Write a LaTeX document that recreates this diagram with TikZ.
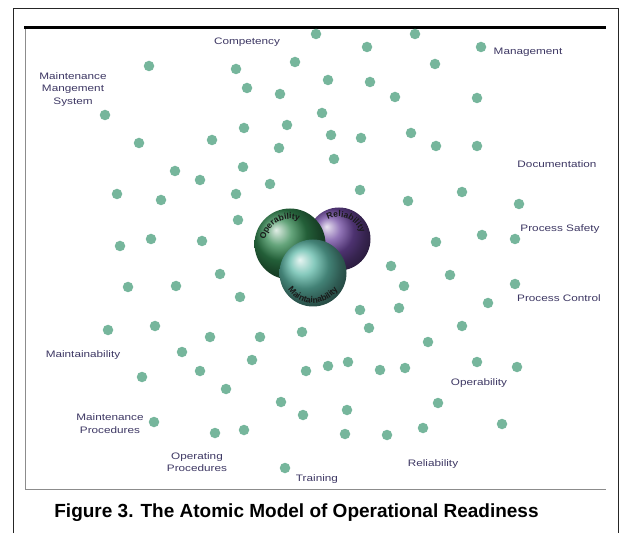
\documentclass[tikz,border=0pt]{standalone}
\usepackage{fontspec}
\setmainfont{Liberation Sans}
\newfontfamily\lblfont{Liberation Sans}[FakeStretch=1.25]
\usetikzlibrary{decorations.text}
\definecolor{dotc}{RGB}{118,182,156}
\definecolor{lblc}{RGB}{62,56,100}
\definecolor{grnball}{RGB}{50,135,80}
\definecolor{purball}{RGB}{110,72,160}
\definecolor{tealball}{RGB}{95,185,168}
\newcommand{\sphfont}{\bfseries\fontsize{8.5}{9}\selectfont}
\begin{document}
\begin{tikzpicture}[x=1pt,y=1pt,
  dot/.style={circle, fill=dotc, inner sep=0pt, minimum size=10.5pt},
  lbl/.style={text=lblc, font=\lblfont\fontsize{9.4}{12.3}\selectfont, align=center, inner sep=0pt},
  sph/.style={circle, inner sep=0pt, shading=ball},
  sphtxt/.style={decorate, decoration={text along path, text align=center, text color=black!90}}
]
\useasboundingbox (0,0) rectangle (623,533);
\fill[white] (0,0) rectangle (623,533);
% frames
\draw[line width=1pt, black!85] (13,0) -- (13,524) -- (618,524) -- (618,0);
\draw[line width=0.8pt, black!45] (25,505) -- (25,44) -- (606,44);
\draw[line width=2.6pt, black] (24,505.5) -- (606,505.5);
% dots
\foreach \x/\y [count=\i] in {316/34,415/34,367/47,481/47,149/66,295/62,236/69,435/64,328/80,370/82,
  247/88,280/94,395/97,477/98,105/115,322/113,287/125,244/128,331/135,361/138,
  411/133,212/140,139/143,279/148,436/146,477/146,334/159,243/167,175/171,200/180,
  270/184,360/190,462/192,236/194,117/194,161/200,408/201,519/204,238/220,120/246,
  151/239,202/241,436/242,482/235,515/239,391/266,220/274,450/275,128/287,176/286,
  404/286,515/284,240/297,488/303,360/310,399/308,369/328,462/326,108/330,155/326,
  210/337,260/337,302/332,428/342,182/352,252/360,348/362,328/366,306/371,380/370,
  405/368,477/362,517/367,200/371,142/377,226/389,281/402,303/415,347/410,438/403,
  154/422,215/433,244/430,345/434,387/435,423/428,502/424,285/468}
  \node[dot] (d\i) at (\x,533-\y) {};
% spheres
\node[sph, ball color=purball, minimum size=63pt] (relsph) at (339,294) {};
\node[sph, ball color=grnball, minimum size=71pt] (opsph) at (290,289) {};
\node[sph, ball color=tealball, minimum size=67pt] (mntsph) at (313,260) {};
\path[sphtxt, decoration={text={|\sphfont|Operability}}]
  ([shift={(192:25)}]opsph.center) arc[start angle=192, end angle=48, radius=25];
\path[sphtxt, decoration={text={|\sphfont|Reliability}}]
  ([shift={(135:22)}]relsph.center) arc[start angle=135, end angle=0, radius=22];
\path[sphtxt, decoration={text={|\sphfont|Maintainability}}]
  ([shift={(195:30)}]mntsph.center) arc[start angle=195, end angle=345, radius=30];
% labels
\node[lbl] (competency) at (247,491) {Competency};
\node[lbl] (mms) at (73,443.5) {Maintenance\\Mangement\\System};
\node[lbl] (management) at (528,481) {Management};
\node[lbl] (documentation) at (557,369) {Documentation};
\node[lbl] (psafety) at (560,304) {Process Safety};
\node[lbl] (pcontrol) at (559,235) {Process Control};
\node[lbl] (operab) at (479,150) {Operability};
\node[lbl] (reliab) at (433,69) {Reliability};
\node[lbl] (training) at (317,54) {Training};
\node[lbl] (opproc) at (197,71) {Operating\\Procedures};
\node[lbl] (mproc) at (110,109.5) {Maintenance\\Procedures};
\node[lbl] (maintain) at (83,178) {Maintainability};
% caption
\node[font=\bfseries\fontsize{19}{22}\selectfont, inner sep=0pt] (caption) at (296.5,20) {Figure 3. The Atomic Model of Operational Readiness};
\end{tikzpicture}
\end{document}
